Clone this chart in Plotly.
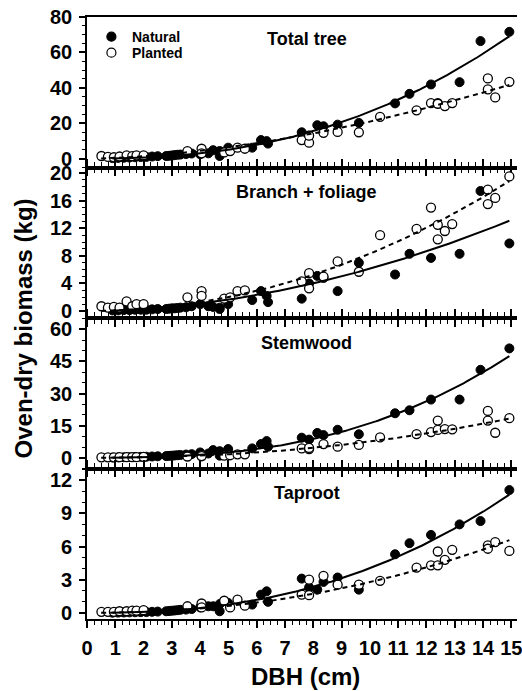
import numpy as np
import plotly.graph_objects as go
from plotly.subplots import make_subplots

# ---------------- data ----------------
panel_titles = ["Total tree", "Branch + foliage", "Stemwood", "Taproot"]
x_tick_vals = list(range(0, 16))
y_tick_sets = [[0, 20, 40, 60, 80], [0, 4, 8, 12, 16, 20], [0, 15, 30, 45, 60], [0, 3, 6, 9, 12]]
y_minor_steps = [5, 1, 5, 1]
y_ranges = [[-5, 80], [-1, 20.8], [-5, 65.3], [-0.55, 13.05]]

# Natural stands (filled circles)
nat_dbh = [0.9, 1.1, 1.3, 1.5, 1.7, 1.9, 2.1, 2.3, 2.5, 2.8, 2.9, 3.0, 3.1, 3.2, 3.3, 3.5, 3.7,
           4.0, 4.29, 4.46, 4.69, 4.69, 4.99, 5.84, 6.15, 6.35, 6.4,
           7.59, 7.85, 8.14, 8.36, 8.86, 9.61, 10.89, 11.4, 12.16, 13.17, 13.91, 14.93]
nat_total = [0.3, 0.4, 0.5, 0.6, 0.8, 0.9, 1.0, 1.2, 1.4, 1.5, 1.6, 1.8, 2.0, 2.2, 2.3, 2.6, 2.9,
             2.5, 3.0, 4.8, 4.3, 1.5, 6.2, 6.2, 10.5, 9.9, 8.5,
             14.9, 13.0, 18.9, 18.3, 19.2, 20.2, 31.2, 36.6, 41.9, 43.2, 66.4, 71.6]
nat_branch = [0.1, 0.1, 0.15, 0.15, 0.2, 0.2, 0.2, 0.25, 0.3, 0.3, 0.35, 0.4, 0.4, 0.45, 0.5, 0.55, 0.7,
              1.0, 0.7, 0.6, 0.5, 0.3, 1.0, 1.6, 2.9, 2.2, 1.3,
              1.8, 4.0, 5.1, 4.8, 2.9, 7.0, 5.3, 8.3, 7.7, 8.3, 17.4, 9.8]
nat_stem = [0.15, 0.2, 0.25, 0.3, 0.4, 0.45, 0.5, 0.6, 0.7, 0.8, 0.9, 1.0, 1.1, 1.2, 1.3, 1.5, 1.7,
            2.5, 2.0, 3.6, 3.1, 1.0, 4.1, 4.4, 6.4, 7.8, 5.2,
            9.4, 8.5, 11.6, 10.6, 13.1, 11.0, 20.8, 22.2, 27.2, 27.2, 41.1, 51.1]
nat_taproot = [0.02, 0.03, 0.04, 0.05, 0.06, 0.07, 0.08, 0.1, 0.12, 0.15, 0.17, 0.2, 0.22, 0.25, 0.28, 0.3, 0.35,
               0.5, 0.6, 0.6, 0.8, 0.15, 0.9, 0.75, 1.65, 1.95, 1.0,
               3.1, 2.3, 2.1, 2.8, 3.2, 2.1, 5.3, 6.3, 7.05, 8.0, 8.3, 11.1]

# Planted stands (open circles)
pla_dbh = [0.51, 0.74, 0.95, 1.15, 1.4, 1.6, 1.75, 2.0,
           3.55, 4.05, 4.05, 4.85, 5.06, 5.32, 5.58,
           7.59, 7.85, 7.85, 8.36, 8.86, 9.61, 10.36, 11.65, 12.16, 12.4, 12.4, 12.65, 12.91,
           14.17, 14.17, 14.43, 14.93]
pla_total = [1.5, 1.0, 0.8, 1.2, 1.8, 1.4, 1.8, 1.8,
             4.2, 5.6, 3.0, 3.5, 4.3, 6.2, 5.6,
             10.5, 9.0, 13.0, 14.6, 15.1, 14.9, 23.6, 27.3, 31.4, 31.4, 31.0, 29.7, 31.4,
             45.3, 39.1, 34.6, 43.4]
pla_branch = [0.7, 0.5, 0.6, 0.5, 1.4, 0.7, 1.0, 1.0,
              2.0, 2.9, 2.2, 1.8, 2.0, 2.9, 3.0,
              4.3, 3.3, 5.5, 5.0, 7.2, 5.7, 11.0, 11.9, 15.0, 12.5, 10.4, 11.6, 12.6,
              17.6, 15.5, 16.4, 19.5]
pla_stem = [0.2, 0.2, 0.2, 0.3, 0.3, 0.3, 0.3, 0.4,
            0.6, 0.8, 0.8, 1.0, 1.2, 1.6, 1.6,
            4.4, 4.1, 4.6, 6.4, 5.2, 6.0, 9.5, 11.1, 12.0, 17.4, 13.0, 13.4, 13.3,
            21.9, 17.4, 11.7, 18.5]
pla_taproot = [0.1, 0.1, 0.1, 0.15, 0.15, 0.2, 0.2, 0.25,
               0.6, 0.85, 0.5, 1.1, 0.5, 1.2, 0.65,
               1.65, 1.6, 3.0, 3.35, 2.55, 2.55, 2.9, 4.1, 4.3, 5.55, 4.3, 4.8, 5.7,
               6.1, 5.8, 6.4, 5.6]

# Fitted allometric curves  B = a * DBH^b  (coefficients)
nat_fit_a = [0.108, 0.079, 0.0321, 0.015]
nat_fit_b = [2.39, 1.89, 2.70, 2.43]
pla_fit_a = [0.3985, 0.0758, 0.0479, 0.01966]
pla_fit_b = [1.72, 2.04, 2.20, 2.15]
nat_fit_span = [0.9, 14.93]
pla_fit_span = [0.5, 14.93]

nat_series = [nat_total, nat_branch, nat_stem, nat_taproot]
pla_series = [pla_total, pla_branch, pla_stem, pla_taproot]

# ---------------- figure ----------------
FONT = "Liberation Sans, Arial, sans-serif"
fig = make_subplots(rows=4, cols=1, shared_xaxes=True, vertical_spacing=0)

for i in range(4):
    r = i + 1
    fig.add_trace(go.Scatter(x=nat_dbh, y=nat_series[i], mode="markers",
                             marker=dict(symbol="circle", size=9, color="black",
                                         line=dict(color="black", width=1)),
                             name="Natural", showlegend=False), row=r, col=1)
    fig.add_trace(go.Scatter(x=pla_dbh, y=pla_series[i], mode="markers",
                             marker=dict(symbol="circle", size=9, color="white",
                                         line=dict(color="black", width=1.3)),
                             name="Planted", showlegend=False), row=r, col=1)
    xn = np.linspace(nat_fit_span[0], nat_fit_span[1], 200)
    xp = np.linspace(pla_fit_span[0], pla_fit_span[1], 200)
    fig.add_trace(go.Scatter(x=xn, y=nat_fit_a[i] * xn ** nat_fit_b[i], mode="lines",
                             line=dict(color="black", width=2), showlegend=False,
                             hoverinfo="skip"), row=r, col=1)
    fig.add_trace(go.Scatter(x=xp, y=pla_fit_a[i] * xp ** pla_fit_b[i], mode="lines",
                             line=dict(color="black", width=2, dash="5px,4px"), showlegend=False,
                             hoverinfo="skip"), row=r, col=1)

    fig.update_xaxes(row=r, col=1, range=[0, 15.2], tickvals=x_tick_vals,
                     ticks="outside", ticklen=7, tickwidth=1.5, tickcolor="black",
                     showline=True, linewidth=1.6, linecolor="black",
                     mirror=(True if r == 1 else "ticks"),
                     minor=dict(dtick=0.25, tick0=0, ticks="outside", ticklen=4,
                                tickwidth=1.2, tickcolor="black"),
                     showgrid=False, zeroline=False, automargin=False,
                     showticklabels=(r == 4), ticklabeloverflow="allow",
                     ticklabelstandoff=3,
                     tickfont=dict(family=FONT, size=20, color="black", weight="bold"))
    fig.update_yaxes(row=r, col=1, range=y_ranges[i], tickvals=y_tick_sets[i],
                     ticks="outside", ticklen=6, tickwidth=1.5, tickcolor="black",
                     showline=True, linewidth=1.6, linecolor="black",
                     minor=dict(dtick=y_minor_steps[i], tick0=0, ticks="outside", ticklen=3.5,
                                tickwidth=1.2, tickcolor="black"),
                     showgrid=False, zeroline=False, automargin=False,
                     ticklabelstandoff=3, ticklabeloverflow="allow",
                     tickfont=dict(family=FONT, size=20, color="black", weight="bold"))

# panel titles
title_y = [0.963, 0.7096, 0.459, 0.2101]
for t, yy in zip(panel_titles, title_y):
    fig.add_annotation(text=t, xref="paper", yref="paper", x=0.511, y=yy,
                       xanchor="center", yanchor="middle", showarrow=False,
                       font=dict(family=FONT, size=18, color="black", weight="bold"))

# axis titles
fig.add_annotation(text="Oven-dry biomass (kg)", xref="paper", yref="paper",
                   x=-0.1474, y=0.482, textangle=-90, xanchor="center", yanchor="middle",
                   showarrow=False, font=dict(family=FONT, size=24, color="black", weight="bold"))
fig.add_annotation(text="DBH (cm)", xref="paper", yref="paper",
                   x=0.509, y=-0.0953, xanchor="center", yanchor="middle",
                   showarrow=False, font=dict(family=FONT, size=24, color="black", weight="bold"))

# legend (drawn manually)
leg_x = (111.7 - 87.3) / 430
for label, fill, ypx in [("Natural", "black", 36.7), ("Planted", "white", 52.7)]:
    yy = 1 - (ypx - 17) / 602
    fig.add_shape(type="circle", xref="paper", yref="paper", xsizemode="pixel", ysizemode="pixel",
                  xanchor=leg_x, yanchor=yy, x0=-4.5, x1=4.5, y0=-4.5, y1=4.5,
                  fillcolor=fill, line=dict(color="black", width=1.2))
    fig.add_annotation(text=label, xref="paper", yref="paper", x=(130.7 - 87.3) / 430, y=yy,
                       xanchor="left", yanchor="middle", showarrow=False,
                       font=dict(family=FONT, size=14, color="black", weight="bold"))

fig.update_layout(width=522, height=691, margin=dict(l=87, r=5, t=17, b=72),
                  plot_bgcolor="white", paper_bgcolor="white", showlegend=False)

fig.write_html("out.html", config={"displayModeBar": False},
               post_script="document.body.style.margin='0';document.body.style.overflow='hidden';")
